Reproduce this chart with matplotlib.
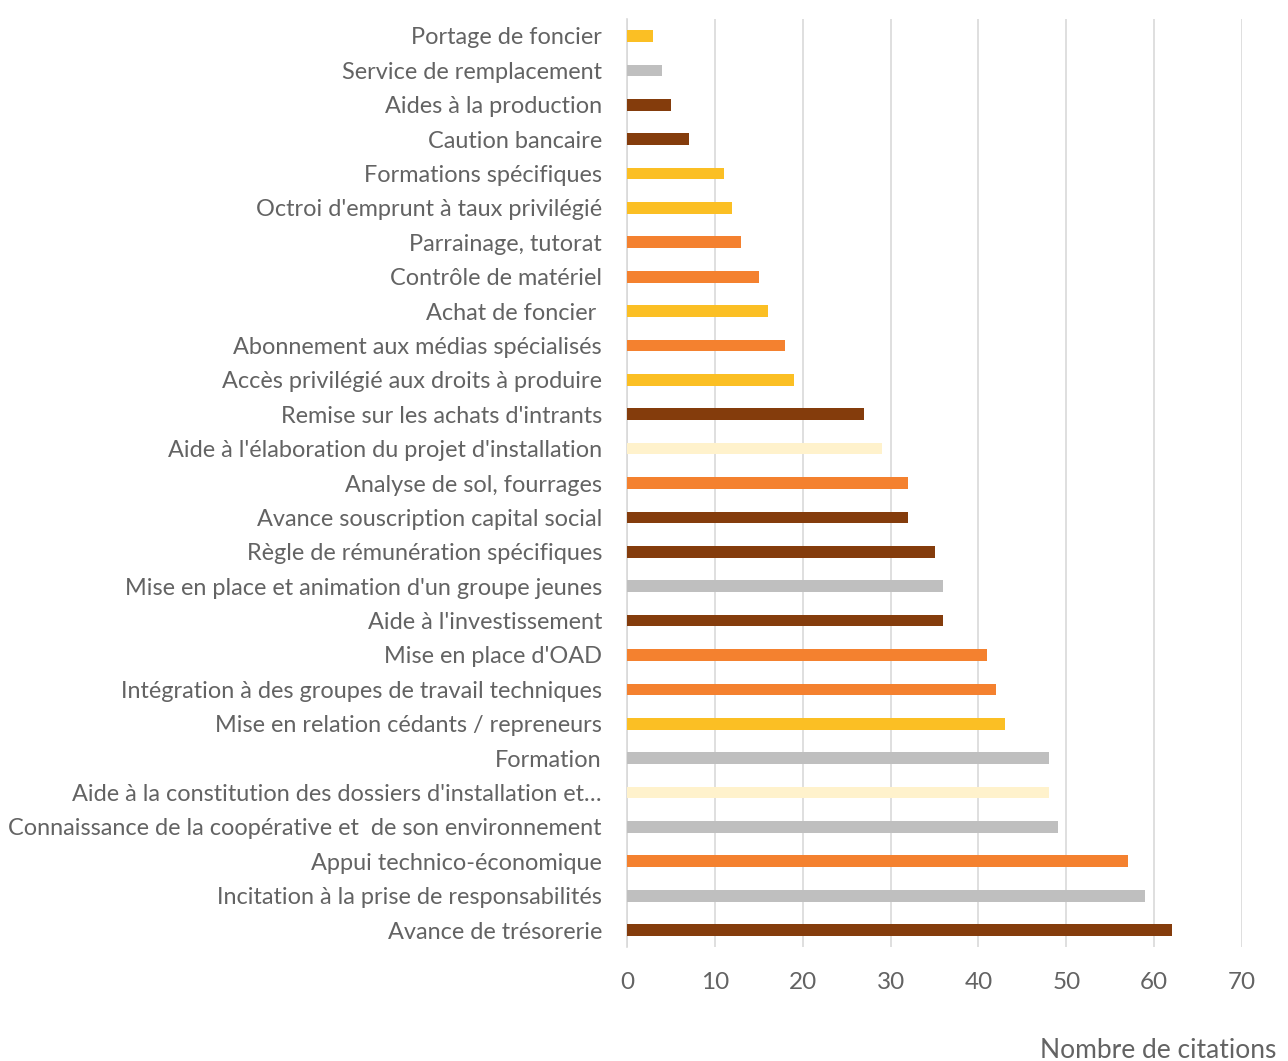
#!/usr/bin/env python3
"""
Horizontal bar chart: number of citations per support measure
"""
import matplotlib.pyplot as plt

# categories listed from top to bottom
categories = [
    "Portage de foncier",
    "Service de remplacement",
    "Aides à la production",
    "Caution bancaire",
    "Formations spécifiques",
    "Octroi d'emprunt à taux privilégié",
    "Parrainage, tutorat",
    "Contrôle de matériel",
    "Achat de foncier ",
    "Abonnement aux médias spécialisés",
    "Accès privilégié aux droits à produire",
    "Remise sur les achats d'intrants",
    "Aide à l'élaboration du projet d'installation",
    "Analyse de sol, fourrages",
    "Avance souscription capital social",
    "Règle de rémunération spécifiques",
    "Mise en place et animation d'un groupe jeunes",
    "Aide à l'investissement",
    "Mise en place d'OAD",
    "Intégration à des groupes de travail techniques",
    "Mise en relation cédants / repreneurs",
    "Formation",
    "Aide à la constitution des dossiers d'installation et…",
    "Connaissance de la coopérative et  de son environnement",
    "Appui technico-économique",
    "Incitation à la prise de responsabilités",
    "Avance de trésorerie",
]
citations = [3, 4, 5, 7, 11, 12, 13, 15, 16, 18, 19, 27, 29, 32, 32,
             35, 36, 36, 41, 42, 43, 48, 48, 49, 57, 59, 62]

BROWN, ORANGE, YELLOW, GRAY, CREAM = "#843C0C", "#F4812F", "#FBBF24", "#BFBFBF", "#FFF2CC"
bar_colors = [YELLOW, GRAY, BROWN, BROWN, YELLOW, YELLOW, ORANGE, ORANGE, YELLOW,
              ORANGE, YELLOW, BROWN, CREAM, ORANGE, BROWN, BROWN, GRAY, BROWN,
              ORANGE, ORANGE, YELLOW, GRAY, CREAM, GRAY, ORANGE, GRAY, BROWN]

if __name__ == "__main__":
    plt.rcParams['font.family'] = ['Lato', 'DejaVu Sans']
    text_color = '#636363'

    fig = plt.figure(figsize=(12.88, 10.61), dpi=100)
    ax = fig.add_axes([0.4868, 0.1072, 0.4775, 0.8751])

    pos = list(range(len(categories)))
    ax.barh(pos, citations, height=0.34, color=bar_colors, zorder=3)
    ax.set_yticks(pos)
    ax.set_yticklabels(categories)
    ax.set_ylim(len(categories) - 0.5, -0.5)
    ax.set_xlim(0, 70)
    ax.set_xticks(range(0, 71, 10))

    ax.grid(True, axis='x', color='#D9D9D9', linewidth=1.2, zorder=0)
    for side in ['top', 'right', 'bottom']:
        ax.spines[side].set_visible(False)
    ax.spines['left'].set_color('#D9D9D9')
    ax.spines['left'].set_linewidth(1.2)

    ax.tick_params(axis='y', length=0, pad=18, labelsize=16.9, labelcolor=text_color)
    ax.tick_params(axis='x', length=0, pad=18, labelsize=17.5, labelcolor=text_color)

    fig.text(1276 / 1288, 1 - 1050 / 1061, "Nombre de citations", ha='right', va='center',
             fontsize=19, color=text_color)

    fig.savefig("out.png", dpi=100)
